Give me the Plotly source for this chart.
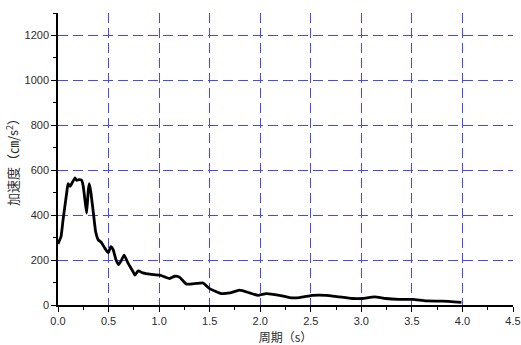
import plotly.graph_objects as go

# Response spectrum: period (s) vs. acceleration (cm/s^2)
period = [0.0, 0.03, 0.05, 0.086, 0.10, 0.12, 0.135, 0.168, 0.184, 0.207, 0.234,
          0.25, 0.266, 0.283, 0.30, 0.31, 0.326, 0.35, 0.372, 0.398, 0.43,
          0.464, 0.497, 0.523, 0.546, 0.572, 0.60, 0.628, 0.654, 0.694, 0.743,
          0.76, 0.793, 0.84, 0.908, 1.007, 1.056, 1.105, 1.155, 1.204, 1.27,
          1.369, 1.434, 1.5, 1.613, 1.70, 1.796, 1.895, 1.977, 2.06, 2.19,
          2.29, 2.39, 2.52, 2.65, 2.78, 2.91, 3.01, 3.13, 3.24, 3.37, 3.51,
          3.64, 3.80, 3.99]
accel = [272, 305, 379, 500, 540, 528, 540, 566, 555, 558, 555,
         528, 469, 409, 513, 540, 499, 409, 327, 290, 278,
         252, 233, 260, 245, 203, 180, 200, 222, 185, 148,
         133, 152, 143, 137, 133, 125, 118, 128, 123, 93,
         96, 98, 73, 51, 54, 66, 54, 43, 51, 43,
         33, 33, 43, 43, 36, 29, 29, 36, 29, 25, 25,
         18, 17, 12]

x_ticks = [0.0, 0.5, 1.0, 1.5, 2.0, 2.5, 3.0, 3.5, 4.0, 4.5]
y_ticks = [0, 200, 400, 600, 800, 1000, 1200]

text_color = "#2b2b2b"
grid_color = "#4747ff"

fig = go.Figure()
fig.add_trace(go.Scatter(
    x=period, y=accel, mode="lines",
    line=dict(color="black", width=2.8, shape="spline", smoothing=0.4),
    showlegend=False, hoverinfo="skip",
))

fig.update_layout(
    width=521, height=345,
    margin=dict(l=58, r=8, t=13, b=40, autoexpand=False),
    paper_bgcolor="white", plot_bgcolor="white",
    font=dict(family="Liberation Sans, Arial, sans-serif", size=11, color=text_color),
    xaxis=dict(
        range=[0, 4.5], tickvals=x_ticks, ticktext=[f"{v:.1f}" for v in x_ticks],
        automargin=False,
        showline=True, linecolor="black", linewidth=1.5,
        ticks="outside", ticklen=5, tickwidth=1.2, tickcolor="black",
        minor=dict(dtick=0.25, tick0=0, ticks="outside", ticklen=3,
                   tickwidth=1, tickcolor="black", showgrid=False),
        showgrid=True, gridcolor=grid_color, gridwidth=1, griddash="10px,5px",
        zeroline=False,
        title=dict(text="周期（s）", standoff=9,
                   font=dict(family="Noto Sans CJK SC", size=12, color=text_color)),
    ),
    yaxis=dict(
        range=[0, 1300], tickvals=y_ticks,
        automargin=False,
        showline=True, linecolor="black", linewidth=1.5,
        ticks="outside", ticklen=5, tickwidth=1.2, tickcolor="black",
        minor=dict(dtick=100, tick0=0, ticks="outside", ticklen=3,
                   tickwidth=1, tickcolor="black", showgrid=False),
        showgrid=True, gridcolor=grid_color, gridwidth=1, griddash="10px,5px",
        zeroline=False,
        title=dict(text="加速度（㎝/s<sup>2</sup>）", standoff=3,
                   font=dict(family="Noto Sans CJK SC", size=13, color=text_color)),
    ),
)

fig.write_html("out.html")
